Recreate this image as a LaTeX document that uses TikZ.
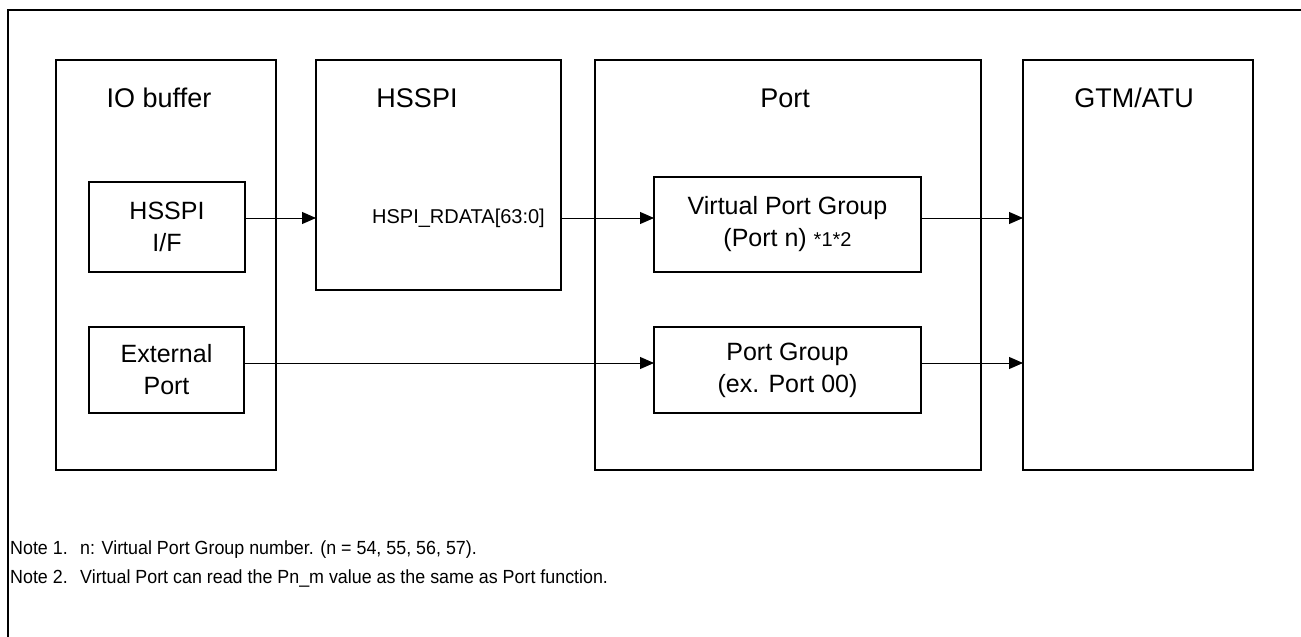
\documentclass[tikz,border=0pt]{standalone}
\usepackage{fontspec}
\setmainfont{Liberation Sans}
\newfontfamily\notefont[FakeStretch=0.94]{Liberation Sans}
\usetikzlibrary{arrows.meta,calc}
\begin{document}
\begin{tikzpicture}[x=1pt,y=-1pt,
  blk/.style={draw=black,line width=2pt,inner sep=0pt,outer sep=0pt},
  sub/.style={draw=black,line width=2pt,inner sep=0pt,outer sep=0pt,align=center,
    font=\fontsize{25}{32}\selectfont},
  ttl/.style={font=\fontsize{27}{32}\selectfont,inner sep=0pt},
  sig/.style={font=\fontsize{20}{24}\selectfont,inner sep=0pt},
  note/.style={font=\notefont\fontsize{19}{23}\selectfont,inner sep=0pt,anchor=base west},
  arr/.style={line width=1pt,-{Triangle[length=14pt,width=12pt]}},
  frame/.style={line width=2pt}]
\useasboundingbox (0,0) rectangle (1301,637);
% frame (top and left)
\draw[frame] (1302,10) -- (8,10) -- (8,638);
% big blocks
\node[blk,anchor=north west,minimum width=220,minimum height=410] (io) at (56,60) {};
\node[blk,anchor=north west,minimum width=245,minimum height=230] (hsspi) at (316,60) {};
\node[blk,anchor=north west,minimum width=386,minimum height=410] (port) at (595,60) {};
\node[blk,anchor=north west,minimum width=230,minimum height=410] (gtm) at (1023,60) {};
% titles
\node[ttl] (tio) at (159,98) {IO buffer};
\node[ttl] (ths) at (417,98) {HSSPI};
\node[ttl] (tport) at (785,98) {Port};
\node[ttl] (tgtm) at (1134,98) {GTM/ATU};
% inner boxes
\node[sub,anchor=north west,minimum width=156,minimum height=90] (hif) at (89,182) {HSSPI\\I/F};
\node[sub,anchor=north west,minimum width=155,minimum height=86] (ext) at (89,327) {External\\Port};
\node[sub,anchor=north west,minimum width=267,minimum height=95] (vpg) at (654,177) {Virtual Port Group\\(Port n) {\fontsize{20}{24}\selectfont *1*2}};
\node[sub,anchor=north west,minimum width=267,minimum height=86] (pg) at (654,327) {Port Group\\(ex. Port 00)};
% signal label
\coordinate (rowA) at (0,218);
\coordinate (rowB) at (0,363);
\node[sig,anchor=east] (rdata) at ($(hsspi.east |- rowA)+(-16,0)$) {HSPI\_RDATA[63:0]};
% connectors
\draw[arr] (hif.east |- rowA) -- (hsspi.west |- rowA);
\draw[arr] (hsspi.east |- rowA) -- (vpg.west |- rowA);
\draw[arr] (vpg.east |- rowA) -- (gtm.west |- rowA);
\draw[arr] (ext.east |- rowB) -- (pg.west |- rowB);
\draw[arr] (pg.east |- rowB) -- (gtm.west |- rowB);
% notes
\node[note] (n1a) at (10,554) {Note 1.};
\node[note] (n1b) at (80,554) {n: Virtual Port Group number. (n = 54, 55, 56, 57).};
\node[note] (n2a) at (10,583) {Note 2.};
\node[note] (n2b) at (80,583) {Virtual Port can read the Pn\_m value as the same as Port function.};
\end{tikzpicture}
\end{document}
